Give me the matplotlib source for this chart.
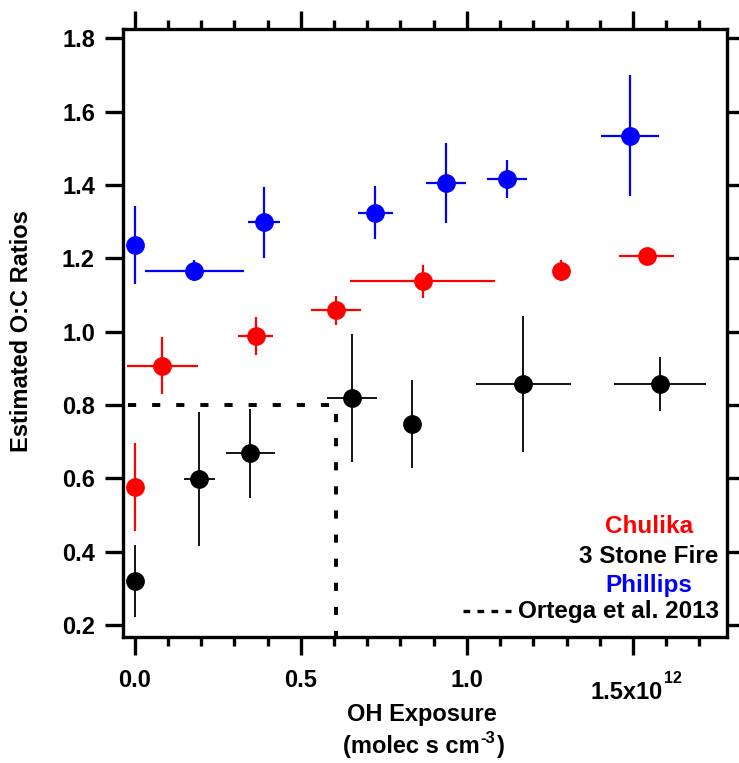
import numpy as np
import matplotlib
matplotlib.use("Agg")
import matplotlib.pyplot as plt
from matplotlib.lines import Line2D

plt.rcParams['font.family'] = ['Liberation Sans', 'DejaVu Sans']
plt.rcParams['font.weight'] = 'bold'

# Данные
chulika_x = [0.0, 0.083, 0.364, 0.606, 0.867, 1.283, 1.541]
chulika_y = [0.577, 0.907, 0.988, 1.058, 1.137, 1.167, 1.207]
chulika_xerr = [0, 0.107, 0.052, 0.075, 0.218, 0, 0.083]
chulika_yerr = [0.12, 0.078, 0.052, 0.04, 0.044, 0.03, 0]

stone_x = [0.0, 0.195, 0.348, 0.655, 0.834, 1.170, 1.581]
stone_y = [0.32, 0.598, 0.668, 0.819, 0.748, 0.858, 0.858]
stone_xerr = [0, 0.047, 0.074, 0.075, 0, 0.144, 0.138]
stone_yerr = [0.098, 0.183, 0.121, 0.174, 0.121, 0.185, 0.074]

phillips_x = [0.0, 0.18, 0.39, 0.724, 0.937, 1.121, 1.492]
phillips_y = [1.237, 1.167, 1.298, 1.325, 1.405, 1.417, 1.535]
phillips_xerr = [0, 0.149, 0.048, 0.053, 0.06, 0.059, 0.087]
phillips_yerr = [0.107, 0.03, 0.097, 0.073, 0.109, 0.051, 0.165]

ortega_x = [-0.02, 0.606, 0.606]
ortega_y = [0.8, 0.8, 0.1]

x_major = [0.0, 0.5, 1.0, 1.5]
x_labels = ['0.0', '0.5', '1.0', '']
x_minor = np.arange(0.1, 1.75, 0.1)
y_major = [0.2, 0.4, 0.6, 0.8, 1.0, 1.2, 1.4, 1.6, 1.8]

W, H = 739, 763
fig = plt.figure(figsize=(W / 100, H / 100), dpi=100)
ax = fig.add_axes([122.7 / W, 1 - 636.7 / H, (727 - 122.7) / W, (636.7 - 29.3) / H])

# Ortega et al. 2013
ax.plot(ortega_x, ortega_y, color='black', lw=2.8, linestyle=(0, (2.1, 4.1)),
        dash_capstyle='butt', zorder=1)

series = [
    (chulika_x, chulika_y, chulika_xerr, chulika_yerr, '#ff0000', 1.6),
    (stone_x, stone_y, stone_xerr, stone_yerr, 'black', 1.3),
    (phillips_x, phillips_y, phillips_xerr, phillips_yerr, '#0000ff', 1.6),
]
for x, y, xe, ye, c, lw in series:
    ax.errorbar(x, y, xerr=xe, yerr=ye, fmt='o', color=c, ms=12.5,
                elinewidth=lw, capsize=0, zorder=3)

ax.set_xlim(-0.036, 1.783)
ax.set_ylim(0.168, 1.825)

for s in ax.spines.values():
    s.set_linewidth(2.4)

ax.set_xticks(x_major)
ax.set_xticklabels(x_labels)
ax.set_xticks(x_minor, minor=True)
ax.set_yticks(y_major)
ax.set_yticklabels(['%.1f' % v for v in y_major])

ax.tick_params(axis='both', which='major', direction='out', length=13, width=2.4,
               labelsize=17, top=True, right=True)
ax.tick_params(axis='x', which='minor', direction='out', length=6.5, width=2.4,
               top=True, bottom=True)
ax.tick_params(axis='x', which='major', pad=10)
ax.tick_params(axis='y', which='major', pad=7)
for lab in ax.get_xticklabels() + ax.get_yticklabels():
    lab.set_fontweight('bold')


def ftext(px, py, s, size, **kw):
    # текст в пикселях от верхнего левого угла
    return fig.text(px / W, 1 - py / H, s, fontsize=size, fontweight='bold',
                    va='baseline', **kw)


renderer = fig.canvas.get_renderer()


def text_width(t):
    return t.get_window_extent(renderer).width


# последняя подпись оси x: 1.5x10^12
t0 = ftext(590, 699.3, '1.5x10', 17, ha='left')
ftext(590 + text_width(t0) + 1.5, 683.3, '12', 11.5, ha='left')

# подписи осей
fig.text(21.7 / W, 1 - 331.5 / H, 'Estimated O:C Ratios', rotation=90,
         ha='center', va='center', fontsize=17, fontweight='bold')
ftext(421.5, 720.7, 'OH Exposure', 17, ha='center')
t1 = ftext(343, 753, '(molec s cm', 17, ha='left')
x2 = 343 + text_width(t1) + 1
t2 = ftext(x2, 743, '-3', 12, ha='left')
x3 = x2 + text_width(t2) + 1
ftext(x3, 753, ')', 17, ha='left')

# легенда
ftext(649, 533.3, 'Chulika', 17.5, color='#ff0000', ha='center')
ftext(649, 562.7, '3 Stone Fire', 17.5, color='black', ha='center')
ftext(649, 591.7, 'Phillips', 17.5, color='#0000ff', ha='center')
ftext(518.3, 618.3, 'Ortega et al. 2013', 17.5, color='black', ha='left')
fig.add_artist(Line2D([462.7 / W, 511.3 / W], [1 - 610.7 / H, 1 - 610.7 / H],
                      transform=fig.transFigure, color='black', lw=2.4,
                      linestyle=(0, (2.0, 2.2)), dash_capstyle='butt'))

fig.savefig('out.png', dpi=100)
